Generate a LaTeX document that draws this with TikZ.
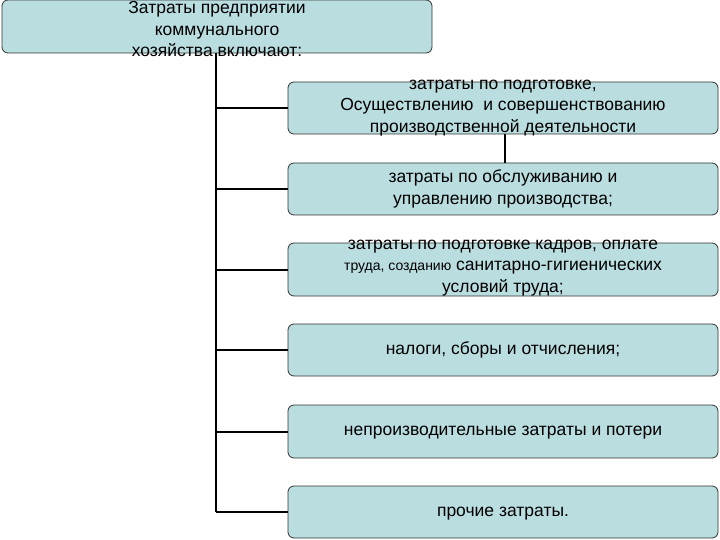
\documentclass[tikz,border=0pt]{standalone}
\usepackage{fontspec}
\setmainfont{Liberation Sans}
\begin{document}
\begin{tikzpicture}[x=1pt,y=-1pt,
  bx/.style={draw=black!80,line width=0.8pt,fill=boxc,rounded corners=6pt,inner sep=0pt},
  ln/.style={line width=2pt},
  tx/.style={font=\fontsize{17.5}{21.5}\selectfont,align=center}]
\definecolor{boxc}{HTML}{BADDE0}
\useasboundingbox (0,0) rectangle (720,540);
\draw[bx] (2,0) rectangle (432,53);
\node[tx] (top) at (217,29) {Затраты предприятии\\коммунального\\хозяйства включают:};
\foreach \i/\a/\b in {1/82/134,2/163/215,3/243/296,4/324/376,5/405/458,6/486/538}{
  \draw[bx] (288,\a) rectangle (718,\b);
  \coordinate (b\i) at (288,{(\a+\b)/2});
  \draw[ln] (216,{(\a+\b)/2}) -- (b\i);
}
\coordinate (t0) at (216,53);
\coordinate (t1) at (216,512);
\draw[ln] (t0) -- (t1);
\coordinate (c1) at (505,134); \coordinate (c2) at (505,163);
\draw[ln] (c1) -- (c2);
\node[tx] (n1) at (503,108) {затраты по подготовке,\\Осуществлению\ \ и совершенствованию\\производственной деятельности};
\node[tx] (n2) at (503,189) {затраты по обслуживанию и\\управлению производства;};
\node[tx] (n3) at (503,268) {затраты по подготовке кадров, оплате\\{\fontsize{14}{16}\selectfont труда, созданию} санитарно-гигиенических\\условий труда;};
\node[tx] (n4) at (503,350) {налоги, сборы и отчисления;};
\node[tx] (n5) at (503,433) {непроизводительные затраты и потери};
\node[tx] (n6) at (503,514) {прочие затраты.};
\end{tikzpicture}
\end{document}
